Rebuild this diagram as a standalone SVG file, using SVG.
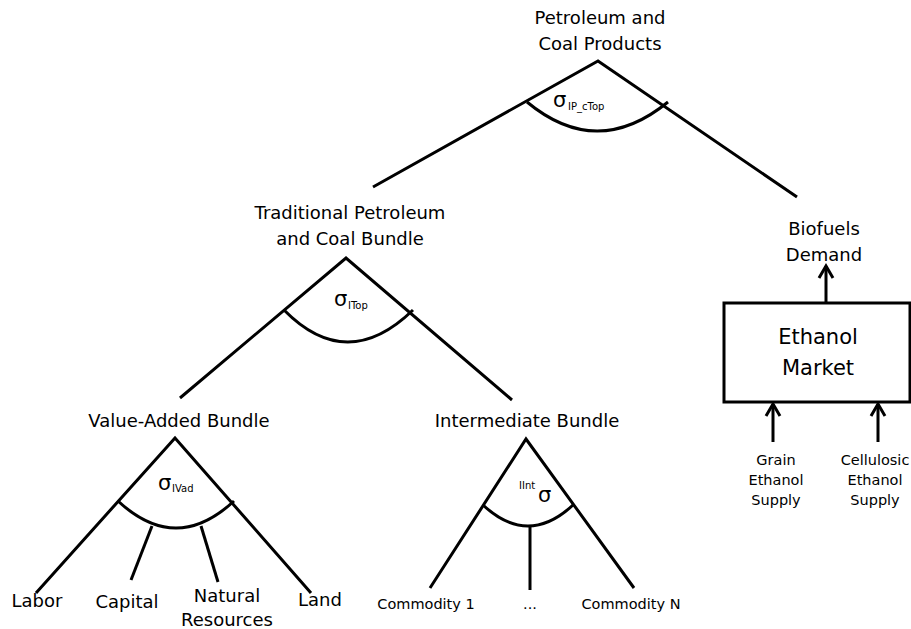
<svg xmlns="http://www.w3.org/2000/svg" width="911" height="629" viewBox="0 0 911 629">
<style>
text{font-family:"DejaVu Sans","Liberation Sans",sans-serif;fill:#000}
.l{font-size:18px;text-anchor:middle}
.s{font-size:14.5px;text-anchor:middle}
.c{font-size:14.5px;text-anchor:middle}
.big{font-size:21px;text-anchor:middle}
.sig{font-size:21px}
.sub{font-size:10px}
.ln{stroke:#000;stroke-width:3;fill:none}
</style>
<defs>
<marker id="ah" markerUnits="userSpaceOnUse" markerWidth="20" markerHeight="20" refX="13" refY="8" orient="auto" overflow="visible">
<path d="M1,1 L13,8 L1,15" fill="none" stroke="#000" stroke-width="3"/>
</marker>
</defs>
<g id="connectors">
<path class="ln" d="M373,187 L598,61 L797,197"/>
<path class="ln" d="M527,102 Q597,160 668,102"/>
<path class="ln" d="M180,398 L346,258 L512,400"/>
<path class="ln" d="M284,310 Q347,374 413,310"/>
<path class="ln" d="M36,593 L175,438 L311,593"/>
<path class="ln" d="M118,501 Q176,555 234,501"/>
<path class="ln" d="M152,526 L131,580"/>
<path class="ln" d="M201,526 L218,582"/>
<path class="ln" d="M430,588 L526,439 L634,588"/>
<path class="ln" d="M483,505 Q528,547 573,505"/>
<path class="ln" d="M530,525 L530,590"/>
<line class="ln" x1="826" y1="302" x2="826" y2="266" marker-end="url(#ah)"/>
<line class="ln" x1="773" y1="442" x2="773" y2="404" marker-end="url(#ah)"/>
<line class="ln" x1="878" y1="442" x2="878" y2="404" marker-end="url(#ah)"/>
</g>
<g id="petroleum">
<text class="l" x="600" y="24">Petroleum and</text>
<text class="l" x="600" y="50">Coal Products</text>
<text class="sig" x="553" y="107">σ</text><text class="sub" x="568" y="110">IP_cTop</text>
</g>
<g id="traditional">
<text class="l" x="350" y="219">Traditional Petroleum</text>
<text class="l" x="350" y="245">and Coal Bundle</text>
<text class="sig" x="334" y="306">σ</text><text class="sub" x="348" y="309">ITop</text>
</g>
<g id="biofuels">
<text class="l" x="824" y="235">Biofuels</text>
<text class="l" x="824" y="261">Demand</text>
</g>
<g id="ethanol-market">
<rect x="724" y="303" width="186" height="99" fill="#fff" stroke="#000" stroke-width="3"/>
<text class="big" x="818" y="344">Ethanol</text>
<text class="big" x="818" y="375">Market</text>
</g>
<g id="grain">
<text class="s" x="776" y="465">Grain</text>
<text class="s" x="776" y="485">Ethanol</text>
<text class="s" x="776" y="505">Supply</text>
</g>
<g id="cellulosic">
<text class="s" x="875" y="465">Cellulosic</text>
<text class="s" x="875" y="485">Ethanol</text>
<text class="s" x="875" y="505">Supply</text>
</g>
<g id="value-added">
<text class="l" x="179" y="427">Value-Added Bundle</text>
<text class="sig" x="158" y="490">σ</text><text class="sub" x="172" y="492">IVad</text>
</g>
<g id="intermediate">
<text class="l" x="527" y="427">Intermediate Bundle</text>
<text class="sub" x="519" y="489">IInt</text><text class="sig" x="538" y="502">σ</text>
</g>
<g id="labor"><text class="l" x="37" y="607">Labor</text></g>
<g id="capital"><text class="l" x="127" y="608">Capital</text></g>
<g id="natural"><text class="l" x="227" y="602">Natural</text><text class="l" x="227" y="626">Resources</text></g>
<g id="land"><text class="l" x="320" y="606">Land</text></g>
<g id="commodity1"><text class="c" x="426" y="609">Commodity 1</text></g>
<g id="dots"><text class="c" x="530" y="609">...</text></g>
<g id="commodityN"><text class="c" x="631" y="609">Commodity N</text></g>
</svg>
